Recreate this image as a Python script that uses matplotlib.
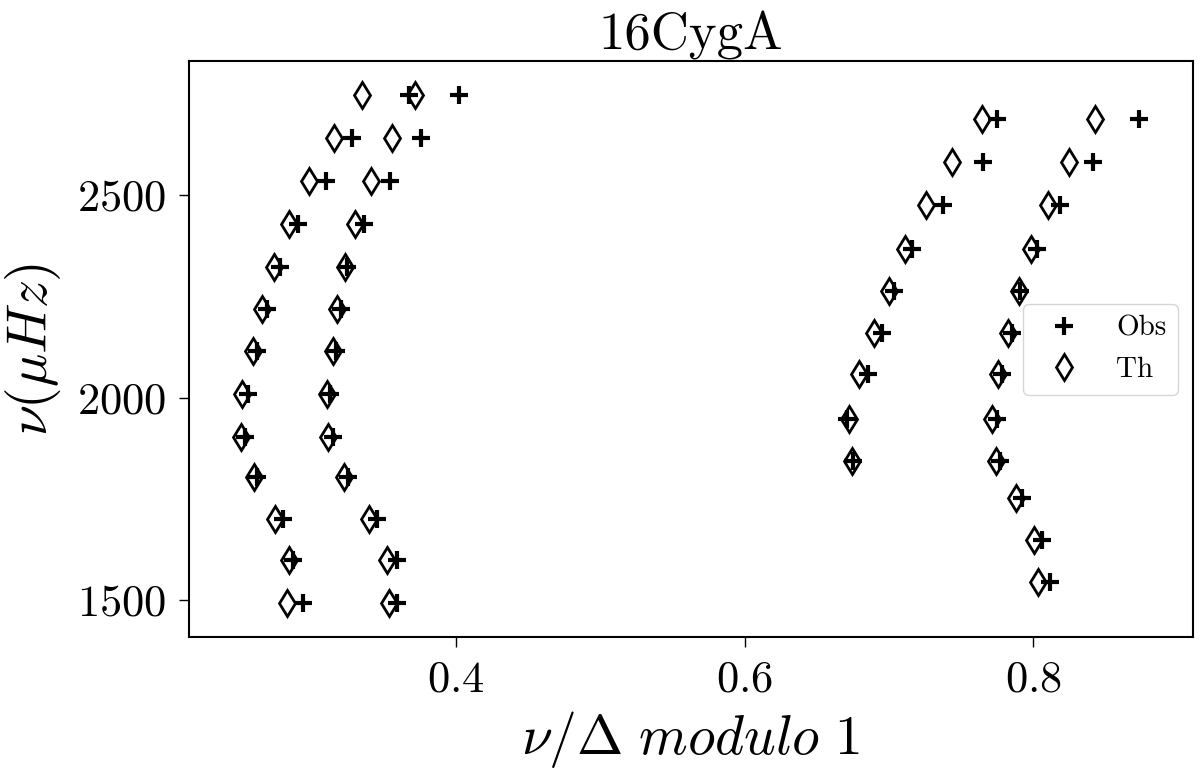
import matplotlib as mpl
mpl.use("Agg")
import matplotlib.pyplot as plt


mpl.rcParams.update(
    {
        "font.family": "serif",
        "font.serif": ["cmr10", "DejaVu Serif"],
        "mathtext.fontset": "cm",
        "axes.formatter.use_mathtext": True,
        "axes.unicode_minus": False,
        "axes.linewidth": 1.5,
        "xtick.major.size": 7,
        "ytick.major.size": 7,
        "xtick.major.width": 1.0,
        "ytick.major.width": 1.0,
    }
)

# nu / Delta modulo 1  and frequency (muHz)
# ridge A (left group, left branch)
obs_a_x = [0.3676, 0.3282, 0.3099, 0.2903, 0.2781, 0.2693, 0.2619, 0.2561, 0.2538, 0.2619, 0.2803, 0.2873, 0.2938]
th_a_x = [0.3349, 0.3157, 0.2981, 0.2843, 0.2741, 0.2658, 0.2590, 0.2519, 0.2510, 0.2603, 0.2746, 0.2843, 0.2831]
# ridge B (left group, right branch)
obs_b_x = [0.4021, 0.3757, 0.3545, 0.3363, 0.3243, 0.3201, 0.3166, 0.3127, 0.3150, 0.3254, 0.3455, 0.3589, 0.3593]
th_b_x = [0.3718, 0.3559, 0.3411, 0.3302, 0.3229, 0.3178, 0.3144, 0.3104, 0.3115, 0.3226, 0.3397, 0.3524, 0.3536]
left_nu = [2748, 2640, 2535, 2428, 2323, 2219, 2114, 2009, 1903, 1804, 1700, 1599, 1492]

# ridge C (right group, left branch)
obs_c_x = [0.7746, 0.7649, 0.7376, 0.7157, 0.7035, 0.6949, 0.6855, 0.6709, 0.6753]
th_c_x = [0.7647, 0.7437, 0.7256, 0.7111, 0.7000, 0.6896, 0.6794, 0.6725, 0.6742]
ridge_c_nu = [2687, 2581, 2475, 2368, 2264, 2159, 2057, 1947, 1844]
# ridge D (right group, right branch)
obs_d_x = [0.8732, 0.8416, 0.8185, 0.8023, 0.7908, 0.7850, 0.7786, 0.7746, 0.7769, 0.7919, 0.8058, 0.8116]
th_d_x = [0.8429, 0.8249, 0.8104, 0.7982, 0.7901, 0.7827, 0.7754, 0.7712, 0.7739, 0.7878, 0.8005, 0.8035]
ridge_d_nu = [2687, 2581, 2475, 2368, 2264, 2159, 2057, 1947, 1844, 1751, 1648, 1544]

obs_series = [(obs_a_x, left_nu), (obs_b_x, left_nu), (obs_c_x, ridge_c_nu), (obs_d_x, ridge_d_nu)]
th_series = [(th_a_x, left_nu), (th_b_x, left_nu), (th_c_x, ridge_c_nu), (th_d_x, ridge_d_nu)]

fig = plt.figure(figsize=(12, 7.82), dpi=100)
ax = fig.add_axes([0.1578, 0.1850, 0.8361, 0.7370])

for i, (x, y) in enumerate(obs_series):
    ax.plot(x, y, ls="none", marker="+", ms=12.5, mew=3.0, color="black",
            label="Obs" if i == 0 else None)
for i, (x, y) in enumerate(th_series):
    ax.plot(x, y, ls="none", marker="d", ms=13.5, mew=2.0, mfc="none", mec="black",
            label="Th" if i == 0 else None)

ax.set_xlim(0.2152, 0.9105)
ax.set_ylim(1408, 2831)
ax.set_xticks([0.4, 0.6, 0.8])
ax.set_yticks([1500, 2000, 2500])
ax.tick_params(labelsize=32, pad=10)

ax.set_xlabel(r"$\nu/\Delta\ modulo\ 1$", fontsize=40, labelpad=6)
ax.set_ylabel(r"$\nu(\mu Hz)$", fontsize=40, labelpad=10)
ax.set_title("16CygA", fontsize=38, pad=8)

ax.legend(loc="center right", fontsize=21, numpoints=1)

fig.savefig("out.png", dpi=100)
